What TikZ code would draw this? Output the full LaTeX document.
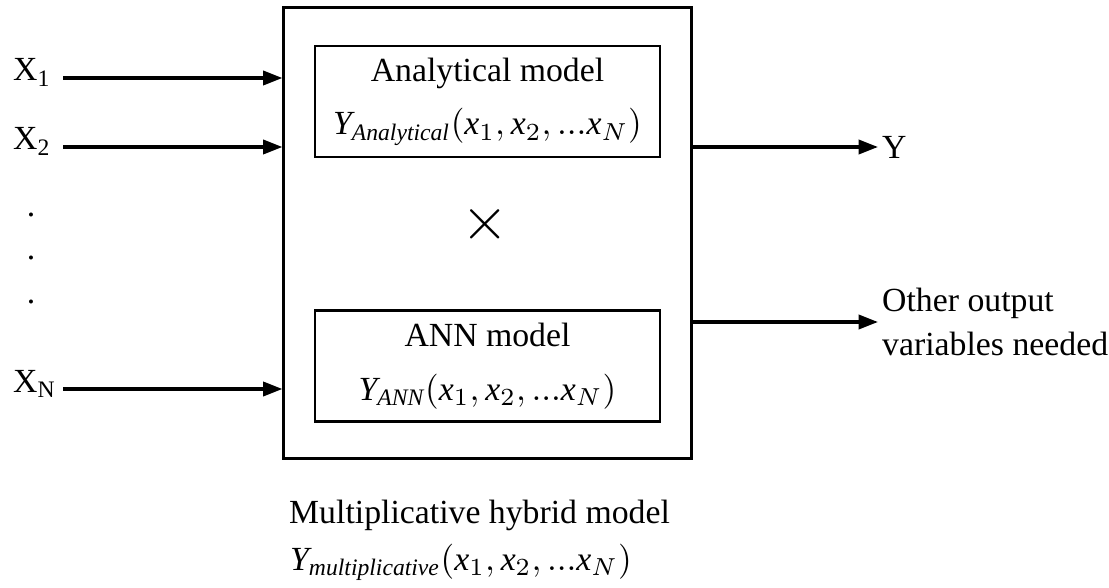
\documentclass[tikz,border=0pt]{standalone}
\usepackage{fontspec}
\setmainfont{Liberation Serif}
\usetikzlibrary{arrows.meta,positioning}
\newcommand{\xargs}{(\mathit{x}_1, \mathit{x}_2, \mathrm{...}\mathit{x}_N)}

\begin{document}
\begin{tikzpicture}[x=0.01cm,y=-0.01cm,
  every node/.style={font=\fontsize{9.6}{12.3}\selectfont, inner sep=1pt},
  blk/.style={draw, line width=0.7pt, minimum width=3.45cm, minimum height=1.11cm, align=center},
  arr/.style={line width=0.95pt, -{Triangle[length=5.5pt,width=4pt]}}]
\useasboundingbox (0,0) rectangle (1109,588);
% hybrid model and its two parts
\node[draw, line width=0.8pt, minimum width=4.07cm, minimum height=4.5cm, inner sep=0pt] (hyb) at (487.5,233) {};
\node[blk] (ana) at (487.5,101.5) {Analytical model\\[3pt]$\mathit{Y}_{\mathit{Analytical}}\xargs$};
\node[blk, below=1.51cm of ana] (ann) {ANN model\\[3pt]$\mathit{Y}_{\mathit{ANN}}\xargs$};
\node[font=\fontsize{16}{16}\selectfont] (mul) at (485,224) {$\times$};
% inputs
\foreach \i/\y in {1/78,2/147,N/389}{
  \node[anchor=base west] (x\i) at (9,\y+3) {$\mathrm{X}_{\mathrm{\i}}$};
  \coordinate (in\i) at (63,\y);
  \draw[arr] (in\i) -- (in\i -| hyb.west);
}
\foreach \y [count=\k] in {215,258,301} \node[anchor=base] (dot\k) at (31,\y+2) {.};
% outputs
\node[anchor=west] (yout) at (878,147) {Y};
\node[anchor=west, align=left] (oout) at (878,322) {Other output\\variables needed};
\draw[arr] (hyb.east |- yout.west) -- (yout.west);
\draw[arr] (hyb.east |- oout.west) -- (oout.west);
% caption
\node[anchor=base west] (cap1) at (285,523) {Multiplicative hybrid model};
\node[anchor=base west] (cap2) at (286,570) {$\mathit{Y}_{\mathit{multiplicative}}\xargs$};
\end{tikzpicture}
\end{document}
